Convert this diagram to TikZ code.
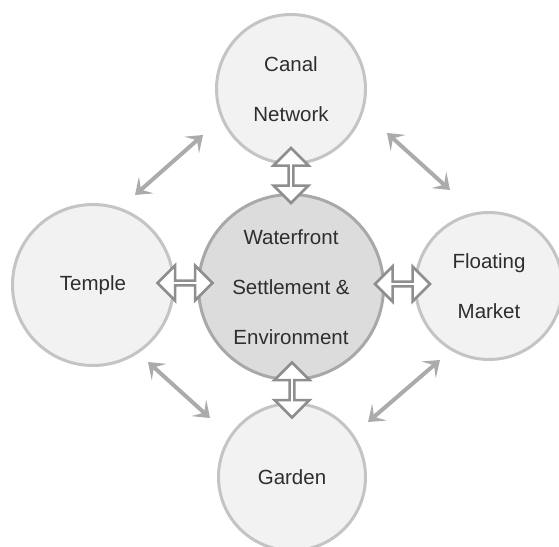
\documentclass[tikz,border=0pt]{standalone}
\usepackage{fontspec}
\setmainfont{Liberation Sans}
\usetikzlibrary{arrows.meta,shapes.arrows}
\definecolor{ringgray}{HTML}{C4C4C4}
\definecolor{softgray}{HTML}{F2F2F2}
\definecolor{hubring}{HTML}{A8A8A8}
\definecolor{hubgray}{HTML}{DCDCDC}
\definecolor{swapgray}{HTML}{8E8E8E}
\definecolor{linkgray}{HTML}{ABABAB}
\definecolor{inkgray}{HTML}{2E2E2E}
\tikzset{
  outer/.style={circle,draw=ringgray,fill=softgray,line width=3pt,inner sep=0pt,
    align=center,text=inkgray,font=\fontsize{20.5}{50}\selectfont},
  hub/.style={outer,draw=hubring,fill=hubgray},
  swap/.style={double arrow,draw=swapgray,fill=white,line width=2.5pt,inner sep=0pt,
    minimum width=35pt,double arrow head extend=8pt,minimum height=55pt},
  link/.style={draw=linkgray,line width=4pt,
    {Stealth[length=15pt,width=22pt,inset=7pt]}-{Stealth[length=15pt,width=22pt,inset=7pt]}}
}
\begin{document}
\begin{tikzpicture}[x=1pt,y=-1pt]
  \useasboundingbox (0,0) rectangle (559,546);

  \node[outer,minimum size=149pt] (canal) at (291,89) {Canal\\Network};
  \node[outer,minimum size=161pt] (temple) at (93,285) {Temple};
  \node[outer,minimum size=147pt] (market) at (489,286) {Floating\\Market};
  \node[outer,minimum size=147pt] (garden) at (292,477) {Garden};
  \node[hub,minimum size=185pt] (hub) at (291,287) {Waterfront\\Settlement \&\\Environment};

  % fat arrows between the hub and each circle
  \foreach \name/\x/\y/\r in {up/291/175.5/90, left/185/283/0, right/402.5/284/0, down/292/390/90}
  {
    \node[swap,rotate=\r] (\name) at (\x,\y) {};
  }

  \coordinate (tl1) at (135,195);
  \coordinate (tl2) at (203,135);
  \coordinate (tr1) at (387,133);
  \coordinate (tr2) at (450,190);
  \coordinate (bl1) at (148,362);
  \coordinate (bl2) at (210,418);
  \coordinate (br1) at (440,360);
  \coordinate (br2) at (368,422);

  \foreach \c in {tl,tr,bl,br}
  {
    \draw[link] (\c1) -- (\c2);
  }
\end{tikzpicture}
\end{document}
